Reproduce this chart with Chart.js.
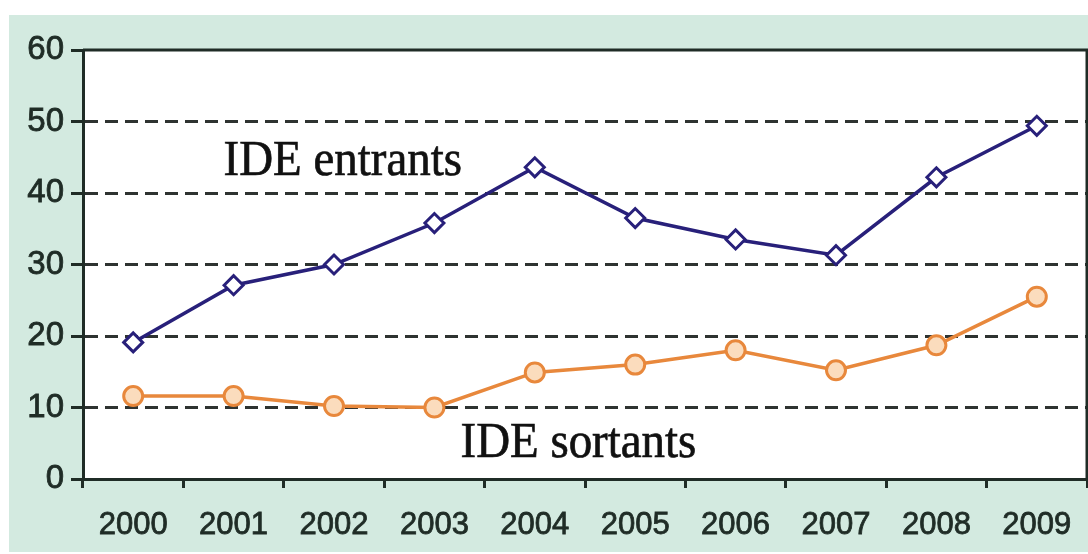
<!DOCTYPE html>
<html>
<head>
<meta charset="utf-8">
<script src="https://cdn.jsdelivr.net/npm/chart.js@4.4.1/dist/chart.umd.min.js"></script>
<style>
  html, body { margin: 0; padding: 0; background: #ffffff; }
  canvas { display: block; }
</style>
</head>
<body>
<canvas id="chart" width="1088" height="554"></canvas>
<script>
// Foreign direct investment flows, 2000-2009
const years = ['2000', '2001', '2002', '2003', '2004', '2005', '2006', '2007', '2008', '2009'];
const entrants = [19.1, 27.1, 30.0, 35.8, 43.6, 36.5, 33.5, 31.3, 42.2, 49.4];
const sortants = [11.6, 11.6, 10.2, 10.0, 14.9, 16.0, 18.0, 15.2, 18.7, 25.5];
const yTicks = [0, 10, 20, 30, 40, 50, 60];
const seriesNames = ['IDE entrants', 'IDE sortants'];

const MINT = 'rgb(211,234,224)';
const INK = '#1f2c26';
const GRID = '#2e3331';
const NAVY = '#28207a';
const ORANGE = '#e8883c';
const PEACH = '#fbdcbd';
const SANS = '"Liberation Sans", Arial, sans-serif';

// Panel background, white plot box, frame and in-chart series names
const panel = {
  id: 'panel',
  beforeDraw(chart) {
    const { ctx, chartArea: a, width, height } = chart;
    ctx.save();
    ctx.fillStyle = '#ffffff';
    ctx.fillRect(0, 0, width, height);
    ctx.fillStyle = MINT;
    ctx.fillRect(9, 15, width - 9, height - 17);
    ctx.fillStyle = '#ffffff';
    ctx.fillRect(a.left, a.top, a.right - a.left, a.bottom - a.top);
    ctx.restore();
  },
  afterDraw(chart) {
    const { ctx, chartArea: a, scales } = chart;
    ctx.save();
    // top and right edges of the box
    ctx.strokeStyle = INK;
    ctx.lineWidth = 3;
    ctx.beginPath();
    ctx.moveTo(a.left, a.top);
    ctx.lineTo(a.right, a.top);
    ctx.lineTo(a.right, a.bottom);
    ctx.stroke();

    // series names placed in data space
    const anchors = [[0.9, 42.5], [3.26, 3.1]];
    ctx.fillStyle = '#111111';
    ctx.strokeStyle = '#111111';
    ctx.lineWidth = 0.7;
    ctx.font = '51px "Liberation Serif", "Times New Roman", serif';
    ctx.textBaseline = 'alphabetic';
    ctx.textAlign = 'left';
    seriesNames.forEach((name, i) => {
      const x = scales.x.getPixelForValue(anchors[i][0]);
      const y = scales.y.getPixelForValue(anchors[i][1]);
      ctx.save();
      ctx.translate(x, y);
      ctx.scale(0.92, 1);
      ctx.fillText(name, 0, 0);
      ctx.strokeText(name, 0, 0);
      ctx.restore();
    });
    ctx.restore();
  }
};

new Chart(document.getElementById('chart'), {
  type: 'line',
  data: {
    labels: years,
    datasets: [
      {
        label: seriesNames[0],
        data: entrants,
        borderColor: NAVY,
        borderWidth: 3.5,
        pointStyle: 'rectRot',
        pointRadius: 9.5,
        pointBackgroundColor: '#ffffff',
        pointBorderColor: NAVY,
        pointBorderWidth: 3,
        tension: 0
      },
      {
        label: seriesNames[1],
        data: sortants,
        borderColor: ORANGE,
        borderWidth: 3.5,
        pointStyle: 'circle',
        pointRadius: 9.5,
        pointBackgroundColor: PEACH,
        pointBorderColor: ORANGE,
        pointBorderWidth: 3,
        tension: 0
      }
    ]
  },
  options: {
    responsive: false,
    animation: false,
    devicePixelRatio: 1,
    layout: { autoPadding: false, padding: { top: 50, right: 1, left: 0, bottom: 0 } },
    plugins: {
      legend: { display: false },
      tooltip: { enabled: false }
    },
    scales: {
      x: {
        offset: true,
        grid: {
          offset: true,
          drawOnChartArea: false,
          drawTicks: true,
          tickLength: 9,
          tickWidth: 3,
          tickColor: INK
        },
        border: { display: true, color: INK, width: 3 },
        ticks: {
          color: INK,
          padding: 19,
          textStrokeColor: INK,
          textStrokeWidth: 0.8,
          font: { family: SANS, size: 31 },
          maxRotation: 0,
          autoSkip: false
        },
        afterFit(scale) {
          scale.height = 75;
          scale.paddingLeft = 0;
          scale.paddingRight = 0;
        }
      },
      y: {
        min: 0,
        max: 60,
        afterBuildTicks(scale) { scale.ticks = yTicks.map(v => ({ value: v })); },
        grid: {
          color: ctx => (ctx.tick && (ctx.tick.value === 0 || ctx.tick.value === 60)) ? 'rgba(0,0,0,0)' : GRID,
          lineWidth: 3,
          borderDash: [13, 7],
          drawTicks: true,
          tickLength: 12,
          tickWidth: 3,
          tickColor: INK,
          tickBorderDash: []
        },
        border: { display: true, color: INK, width: 3, dash: [13, 7] },
        ticks: {
          color: INK,
          padding: 7,
          textStrokeColor: INK,
          textStrokeWidth: 0.8,
          font: { family: SANS, size: 33 }
        },
        afterFit(scale) { scale.width = 83; }
      }
    }
  },
  plugins: [panel]
});
</script>
</body>
</html>
